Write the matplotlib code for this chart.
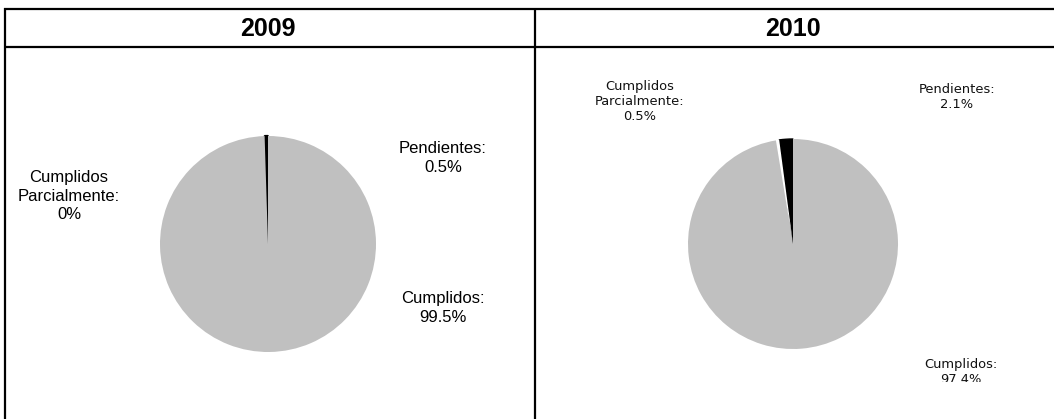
import matplotlib
matplotlib.use("Agg")
import matplotlib.pyplot as plt
from matplotlib.patches import Rectangle

W, H = 1054, 419

# ---- data ----
years = ["2009", "2010"]
categories = ["Pendientes", "Cumplidos Parcialmente", "Cumplidos"]
values_2009 = [0.5, 0.0, 99.5]
values_2010 = [2.1, 0.5, 97.4]
label_2009 = ["Pendientes:\n0.5%", "Cumplidos\nParcialmente:\n0%", "Cumplidos:\n99.5%"]
label_2010 = ["Pendientes:\n2.1%", "Cumplidos\nParcialmente:\n0.5%", "Cumplidos:\n97.4%"]
slice_colors = ["#000000", "#FFFFFF", "#C0C0C0"]

fig = plt.figure(figsize=(W / 100, H / 100), dpi=100)
fig.patch.set_facecolor("white")

# full-figure axes in pixel coordinates for the table frame and labels
bg = fig.add_axes([0, 0, 1, 1])
bg.set_xlim(0, W)
bg.set_ylim(H, 0)
bg.axis("off")

lw = 1.6
bg.plot([4, W + 5], [9, 9], color="black", lw=lw, solid_capstyle="butt")
bg.plot([4, W + 5], [47, 47], color="black", lw=lw, solid_capstyle="butt")
bg.plot([4.5, 4.5], [8, H + 5], color="black", lw=lw, solid_capstyle="butt")
bg.plot([535, 535], [8, H + 5], color="black", lw=lw, solid_capstyle="butt")

bg.text(268, 29, years[0], ha="center", va="center", fontsize=18,
        fontweight="bold", family="Liberation Sans")
bg.text(793, 29, years[1], ha="center", va="center", fontsize=18,
        fontweight="bold", family="Liberation Sans")


def pie_axes(cx, cy, r):
    return fig.add_axes([(cx - r) / W, 1 - (cy + r) / H, 2 * r / W, 2 * r / H])


def draw_pie(ax, values, black_lw):
    wedges, _ = ax.pie(values, colors=slice_colors, startangle=90,
                       counterclock=True, wedgeprops=dict(linewidth=0))
    wedges[0].set_edgecolor("black")
    wedges[0].set_linewidth(black_lw)
    wedges[0].set_joinstyle("bevel")
    ax.set_aspect("equal")
    ax.set_xlim(-1, 1)
    ax.set_ylim(-1, 1)


ax1 = pie_axes(268, 244, 108)
draw_pie(ax1, values_2009, 1.6)

ax2 = pie_axes(793, 244, 105)
draw_pie(ax2, values_2010, 1.0)

# 2009 labels
f09 = dict(ha="center", va="top", fontsize=12, family="Liberation Sans",
           linespacing=1.3)
bg.text(443, 141, label_2009[0], **f09)
bg.text(69, 170, label_2009[1], **f09)
bg.text(443, 291, label_2009[2], **f09)

# 2010 labels
f10 = dict(ha="center", va="top", fontsize=9.4, family="DejaVu Sans",
           linespacing=1.22, color="#111111")
bg.text(957, 83, label_2010[0], **f10)
bg.text(640, 80, label_2010[1], **f10)
t = bg.text(961, 358, label_2010[2], clip_on=True, **f10)
clip = Rectangle((536, 0), 600, 382, transform=bg.transData,
                 facecolor="none", edgecolor="none")
bg.add_patch(clip)
t.set_clip_path(clip)

fig.savefig("out.png", dpi=100)
